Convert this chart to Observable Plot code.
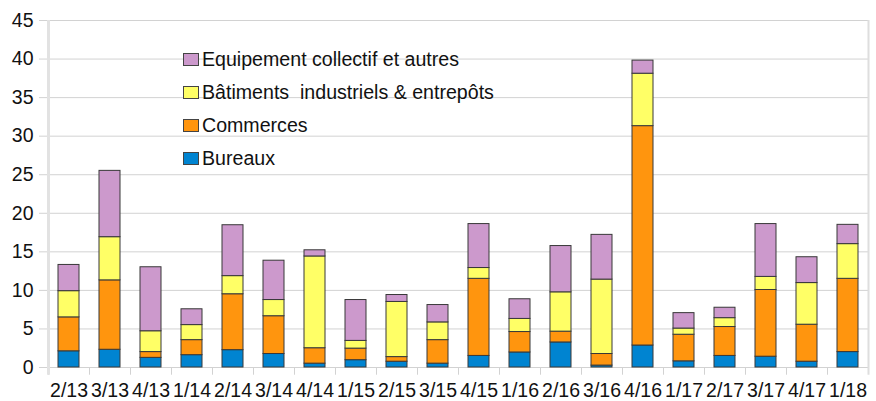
<!DOCTYPE html>
<html>
<head>
<meta charset="utf-8">
<script src="https://cdn.jsdelivr.net/npm/d3@7"></script>
<script src="https://cdn.jsdelivr.net/npm/@observablehq/plot@0.6"></script>
<style>
  html, body { margin: 0; padding: 0; background: #fff; }
  #wrap { position: relative; width: 876px; height: 401px; font-family: "Liberation Sans", Arial, sans-serif; }
  #legend { position: absolute; left: 183px; top: 43px; }
  .row { display: flex; align-items: center; height: 33px; font-size: 19.6px; color: #111; white-space: pre; }
  .sw { width: 14px; height: 11px; border: 1px solid #444; margin-right: 3px; }
</style>
</head>
<body>
<div id="wrap"></div>
<script>
const categories = ["2/13","3/13","4/13","1/14","2/14","3/14","4/14","1/15","2/15","3/15","4/15","1/16","2/16","3/16","4/16","1/17","2/17","3/17","4/17","1/18"];
const seriesNames = ["Bureaux", "Commerces", "Bâtiments  industriels & entrepôts", "Equipement collectif et autres"];
const bureaux    = [2.1, 2.3, 1.25, 1.6, 2.25, 1.75, 0.5, 0.95, 0.75, 0.5, 1.5, 1.95, 3.25, 0.25, 2.85, 0.8, 1.5, 1.4, 0.75, 2.0];
const commerces  = [4.4, 9.0, 0.75, 1.95, 7.25, 4.9, 2.0, 1.5, 0.6, 3.05, 10.0, 2.65, 1.4, 1.5, 28.45, 3.45, 3.75, 8.65, 4.8, 9.5];
const batiments  = [3.4, 5.6, 2.7, 1.95, 2.35, 2.1, 11.9, 1.0, 7.15, 2.3, 1.4, 1.7, 5.1, 9.65, 6.8, 0.8, 1.15, 1.7, 5.4, 4.5];
const equipement = [3.4, 8.6, 8.3, 2.05, 6.6, 5.1, 0.8, 5.3, 0.9, 2.25, 5.7, 2.55, 6.0, 5.8, 1.7, 2.0, 1.35, 6.85, 3.35, 2.5];
const yTicks = [0, 5, 10, 15, 20, 25, 30, 35, 40, 45];
const colors = ["#0084d1", "#ff950e", "#ffff66", "#cc99cc"];

const seriesValues = [bureaux, commerces, batiments, equipement];
const data = [];
categories.forEach((c, i) => {
  seriesNames.forEach((s, j) => data.push({cat: c, series: s, value: seriesValues[j][i]}));
});

const W = 876, H = 401, ML = 48, MR = 8, MT = 20, MB = 34;
const step = (W - ML - MR) / categories.length;
const first = categories[0], last = categories[categories.length - 1];

const chart = Plot.plot({
  width: W, height: H,
  marginLeft: ML, marginRight: MR, marginTop: MT, marginBottom: MB,
  style: {fontFamily: "Liberation Sans, Arial, sans-serif", fontSize: "19.5px", color: "#111", background: "#fff"},
  x: {domain: categories, paddingInner: 0.5, paddingOuter: 0.25, axis: null},
  y: {domain: [0, 45], axis: null},
  color: {domain: seriesNames, range: colors},
  marks: [
    Plot.ruleY(yTicks, {stroke: "#d2d2d2", strokeWidth: 1, insetLeft: -9}),
    Plot.ruleX(categories, {x: d => d, dx: -step / 2, y1: 0, y2: -1, stroke: "#d2d2d2"}),
    Plot.ruleX([last], {x: d => d, dx: step / 2, y1: -1, y2: 45, stroke: "#dedede", strokeWidth: 2}),
    Plot.ruleX([first], {x: d => d, dx: -step / 2, y1: -1, y2: 45, stroke: "#e2e2e2", strokeWidth: 3}),
    Plot.barY(data, Plot.stackY({x: "cat", y: "value", fill: "series", order: null, stroke: "#383838", strokeWidth: 1})),
    Plot.axisY({ticks: yTicks, tickSize: 0, tickPadding: 15, fontSize: 19.5, fill: "#111", label: null}),
    Plot.axisX({tickSize: 0, tickPadding: 16, fontSize: 19.5, fill: "#111", label: null})
  ]
});
const wrap = document.getElementById("wrap");
wrap.appendChild(chart);

const legend = document.createElement("div");
legend.id = "legend";
[3, 2, 1, 0].forEach(j => {
  const row = document.createElement("div");
  row.className = "row";
  const sw = document.createElement("span");
  sw.className = "sw";
  sw.style.background = colors[j];
  row.appendChild(sw);
  row.appendChild(document.createTextNode(seriesNames[j]));
  legend.appendChild(row);
});
wrap.appendChild(legend);
</script>
</body>
</html>
